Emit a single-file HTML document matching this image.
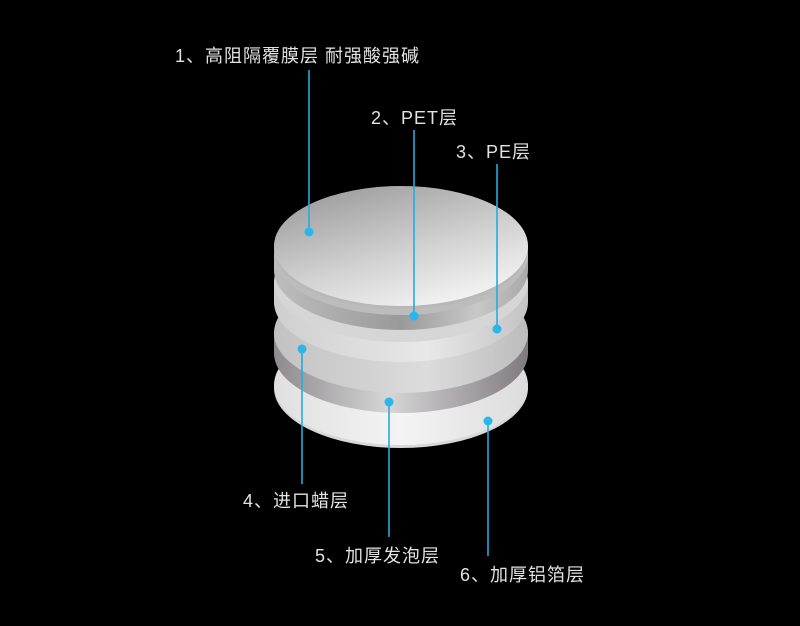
<!DOCTYPE html>
<html><head><meta charset="utf-8"><style>
html,body{margin:0;padding:0;background:#000;}
svg{display:block;}
text{font-family:"Liberation Sans","Noto Sans CJK SC",sans-serif;font-size:18px;letter-spacing:1px;fill:#e2e2e2;}
</style></head><body>
<svg width="800" height="626" viewBox="0 0 800 626" xmlns="http://www.w3.org/2000/svg">
<defs>
<linearGradient id="side" x1="0" x2="1" y1="0" y2="0">
<stop offset="0" stop-color="#bdbdbd"/><stop offset="0.5" stop-color="#9a9a9a"/><stop offset="0.8" stop-color="#c8c8c8"/><stop offset="1" stop-color="#a8a8a8"/></linearGradient>
<linearGradient id="light" x1="0" x2="1" y1="0" y2="0">
<stop offset="0" stop-color="#cfcfcf"/><stop offset="0.6" stop-color="#e8e8e8"/><stop offset="1" stop-color="#c4c4c4"/></linearGradient>
<linearGradient id="wax" x1="0" x2="1" y1="0" y2="0">
<stop offset="0" stop-color="#8e8a8e"/><stop offset="0.45" stop-color="#d6d6d6"/><stop offset="0.75" stop-color="#a8a4a8"/><stop offset="1" stop-color="#7f7b7f"/></linearGradient>
<linearGradient id="waxtop" x1="0" x2="1" y1="0" y2="0">
<stop offset="0" stop-color="#c2c2c2"/><stop offset="0.6" stop-color="#dcdcdc"/><stop offset="1" stop-color="#bcbcbc"/></linearGradient>
<linearGradient id="white" x1="0" x2="1" y1="0" y2="0">
<stop offset="0" stop-color="#e0e0e0"/><stop offset="0.5" stop-color="#f4f4f4"/><stop offset="1" stop-color="#dcdcdc"/></linearGradient>
<linearGradient id="top" x1="0.2" y1="0" x2="0.8" y2="1">
<stop offset="0" stop-color="#9c9c9c"/><stop offset="0.55" stop-color="#d2d2d2"/><stop offset="1" stop-color="#f8f8f8"/></linearGradient>
</defs>
<ellipse cx="401" cy="388" rx="127" ry="60" fill="#d8d8d8"/>
<ellipse cx="401" cy="385" rx="127" ry="60" fill="url(#white)"/>
<ellipse cx="401" cy="353" rx="127" ry="60" fill="url(#wax)"/>
<rect x="274" y="333" width="254" height="20" fill="url(#wax)"/>
<ellipse cx="401" cy="333" rx="127" ry="60" fill="url(#waxtop)"/>
<ellipse cx="401" cy="302" rx="127" ry="60" fill="url(#light)"/>
<rect x="274" y="282" width="254" height="20" fill="url(#light)"/>
<ellipse cx="401" cy="282" rx="127" ry="60" fill="#d6d6d6"/>
<ellipse cx="401" cy="270" rx="127" ry="60" fill="url(#side)"/>
<rect x="274" y="255" width="254" height="15" fill="url(#side)"/>
<ellipse cx="401" cy="255" rx="127" ry="60" fill="#bcbcbc"/>
<ellipse cx="401" cy="249" rx="127" ry="60" fill="#b8b8b8"/>
<ellipse cx="401" cy="246" rx="127" ry="60" fill="url(#top)"/>
<g stroke="#29a9e0" stroke-width="1.6">
<line x1="309" y1="70" x2="309" y2="232"/>
<line x1="414" y1="130" x2="414" y2="316"/>
<line x1="497" y1="164" x2="497" y2="329"/>
<line x1="302" y1="349" x2="302" y2="484"/>
<line x1="389" y1="402" x2="389" y2="537"/>
<line x1="488" y1="421" x2="488" y2="556"/>
</g>
<g fill="#29b6ec">
<circle cx="309" cy="232" r="4.5"/><circle cx="414" cy="316" r="4.5"/><circle cx="497" cy="329" r="4.5"/>
<circle cx="302" cy="349" r="4.5"/><circle cx="389" cy="402" r="4.5"/><circle cx="488" cy="421" r="4.5"/>
</g>
<text x="175" y="62">1、高阻隔覆膜层 耐强酸强碱</text>
<text x="371" y="124">2、PET层</text>
<text x="456" y="158">3、PE层</text>
<text x="243" y="507">4、进口蜡层</text>
<text x="315" y="562">5、加厚发泡层</text>
<text x="460" y="581">6、加厚铝箔层</text>
</svg>
</body></html>
